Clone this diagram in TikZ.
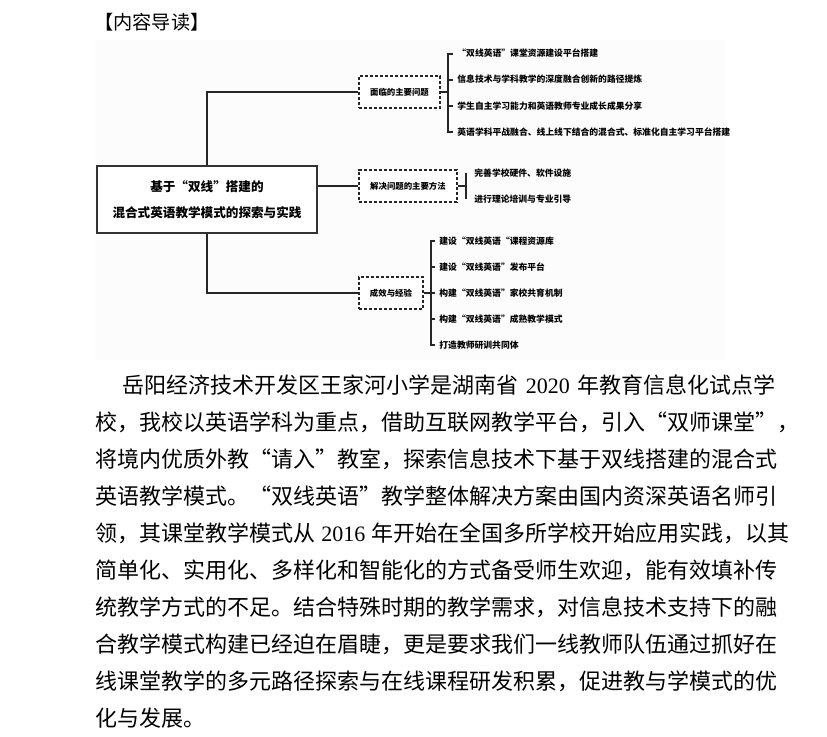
\documentclass[tikz,border=0pt]{standalone}
\usepackage{fontspec}
\setmainfont{Noto Sans CJK SC}
\newfontfamily\numfont{Liberation Serif}
\usetikzlibrary{positioning}
\XeTeXlinebreaklocale "zh"
\XeTeXlinebreakskip=0pt plus 2pt minus 0.6pt
\newcommand{\fullline}[1]{\makebox[341pt][s]{#1}}

\begin{document}
\begin{tikzpicture}[
    x=0.5pt, y=-0.5pt,
    link/.style={line width=1pt, draw=black!85},
    box_main/.style={draw=black!80, line width=0.8pt, fill=white, align=center, minimum width=110pt, minimum height=33.5pt, font=\fontsize{6.3pt}{13.2pt}\selectfont\bfseries},
    box_topic/.style={draw=black!85, line width=1pt, dash pattern=on 1.6pt off 0.9pt, fill=white, anchor=west, minimum height=16pt, inner sep=0pt, font=\fontsize{4.2pt}{5pt}\selectfont\bfseries},
    item/.style={anchor=west, inner sep=2pt, font=\fontsize{4.4pt}{5pt}\selectfont\bfseries},
    para/.style={anchor=west, inner sep=0pt, font=\fontsize{11pt}{13pt}\selectfont}
]
\useasboundingbox (0,0) rectangle (827,736);

% Background of the map
\fill[black!1] (95,40) rectangle (725,360);

% Heading
\node[anchor=west, inner sep=0pt, font=\fontsize{9.6pt}{11pt}\selectfont] (title) at (94,22) {【内容导读】};

% Main topic
\node[box_main] (main) at (207,199.5) {基于“双线”搭建的\\混合式英语教学模式的探索与实践};

% Topics
\node[box_topic, minimum width=40.5pt] (q1) at (358,92.2) {面临的主要问题};
\node[box_topic, minimum width=49pt] (q2) at (358,185.8) {解决问题的主要方法};
\node[box_topic, minimum width=32pt] (q3) at (358,293) {成效与经验};

% Items of topic 1
\node[item] (a1) at (453,53.5) {“双线英语”课堂资源建设平台搭建};
\node[item] (a2) at (453,79.6) {信息技术与学科教学的深度融合创新的路径提炼};
\node[item] (a3) at (453,105.7) {学生自主学习能力和英语教师专业成长成果分享};
\node[item] (a4) at (453,131.8) {英语学科平战融合、线上线下结合的混合式、标准化自主学习平台搭建};

% Items of topic 2
\node[item] (b1) at (470,173) {完善学校硬件、软件设施};
\node[item] (b2) at (470,199) {进行理论培训与专业引导};

% Items of topic 3
\node[item] (c1) at (435,241) {建设“双线英语“课程资源库};
\node[item] (c2) at (435,267) {建设“双线英语”发布平台};
\node[item] (c3) at (435,293) {构建“双线英语”家校共育机制};
\node[item] (c4) at (435,319) {构建“双线英语”成熟教学模式};
\node[item] (c5) at (435,345) {打造教师研训共同体};

% Links
\draw[link] (main.north) |- (q1.west);
\draw[link] (main.east |- q2.west) -- (q2.west);
\draw[link] (main.south) |- (q3.west);

\foreach \n in {a1,a2,a3,a4}
    \draw[link] (q1.east) -- ++(7,0) |- (\n.west);
\foreach \n in {b1,b2}
    \draw[link] (q2.east) -- ++(8,0) |- ([xshift=-2pt]\n.west);
\foreach \n in {c1,c2,c3,c4,c5}
    \draw[link] (q3.east) -- ++(7,0) |- (\n.west);

% Text below
\node[para] (l1) at (122,385) {\makebox[326.5pt][s]{岳阳经济技术开发区王家河小学是湖南省\ {\numfont 2020}\ 年教育信息化试点学}};
\node[para] (l2) at (95,422) {\fullline{校，我校以英语学科为重点，借助互联网教学平台，引入“双师课堂”，}};
\node[para] (l3) at (95,459) {\fullline{将境内优质外教“请入”教室，探索信息技术下基于双线搭建的混合式}};
\node[para] (l4) at (95,496) {\fullline{英语教学模式。“双线英语”教学整体解决方案由国内资深英语名师引}};
\node[para] (l5) at (95,533) {\fullline{领，其课堂教学模式从\hspace{3pt}{\numfont 2016}\hspace{3pt}年开始在全国多所学校开始应用实践，以其}};
\node[para] (l6) at (95,570) {\fullline{简单化、实用化、多样化和智能化的方式备受师生欢迎，能有效填补传}};
\node[para] (l7) at (95,607) {\fullline{统教学方式的不足。结合特殊时期的教学需求，对信息技术支持下的融}};
\node[para] (l8) at (95,644) {\fullline{合教学模式构建已经迫在眉睫，更是要求我们一线教师队伍通过抓好在}};
\node[para] (l9) at (95,681) {\fullline{线课堂教学的多元路径探索与在线课程研发积累，促进教与学模式的优}};
\node[para] (l10) at (95,718) {化与发展。};

\end{tikzpicture}
\end{document}
